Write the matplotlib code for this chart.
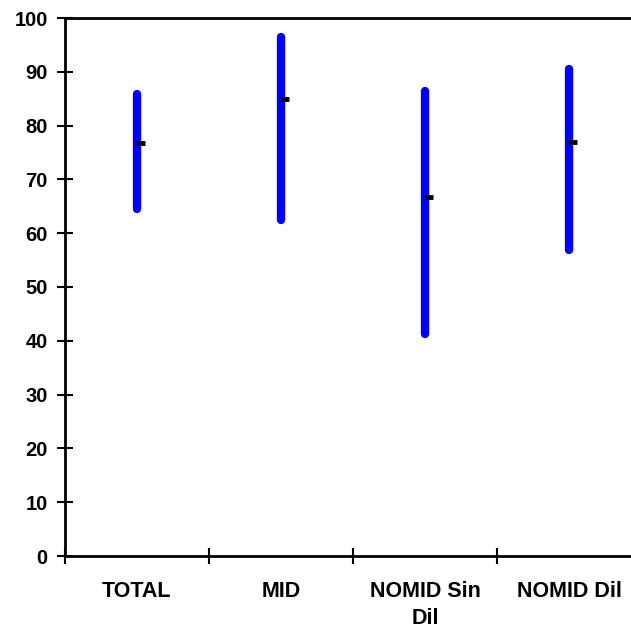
import matplotlib.pyplot as plt
import numpy as np

# data
groups = ['TOTAL', 'MID', 'NOMID Sin\nDil', 'NOMID Dil']
high = [85.9, 96.4, 86.4, 90.6]
low = [64.5, 62.5, 41.3, 56.8]
mean = [76.7, 85.0, 66.7, 77.0]

plt.rcParams['font.family'] = ['Liberation Sans', 'DejaVu Sans']
plt.rcParams['font.weight'] = 'bold'

fig = plt.figure(figsize=(6.31, 6.30), dpi=100)
ax = fig.add_axes([65 / 631, 74 / 630, 576 / 631, 538 / 630])

pos = np.arange(len(groups)) + 0.5

# high-low lines
ax.vlines(pos, low, high, color='#0000ff', linewidth=6, capstyle='round')
# mean ticks (right side)
for x, m in zip(pos, mean):
    ax.plot([x - 0.01, x + 0.055], [m, m], color='black', linewidth=3.5, solid_capstyle='butt')

ax.set_xlim(0, 4)
ax.set_ylim(0, 100)
ax.set_yticks(np.arange(0, 101, 10))
ax.set_xticks(np.arange(0, 5))
ax.set_xticklabels([])
ax.set_xticks(pos, minor=True)
ax.set_xticklabels(groups, minor=True, fontsize=15.5, fontweight='bold', linespacing=1.4)
ax.tick_params(axis='x', which='minor', length=0, pad=18)
ax.tick_params(axis='both', which='major', direction='inout', length=11, width=1.5, labelsize=14.5)
ax.tick_params(axis='y', pad=7)
for lbl in ax.get_yticklabels():
    lbl.set_fontweight('bold')

for s in ax.spines.values():
    s.set_linewidth(2)

fig.savefig('out.png', dpi=100)
